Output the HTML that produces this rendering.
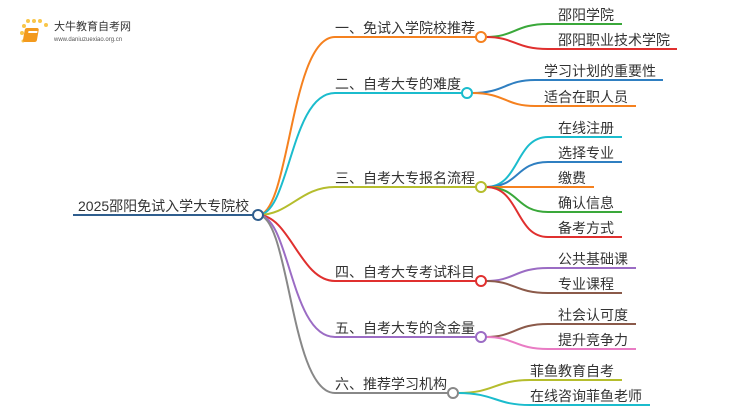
<!DOCTYPE html>
<html><head><meta charset="utf-8"><style>
html,body{margin:0;padding:0;background:#fff}
svg{display:block}
text{font-family:"Liberation Sans","Noto Sans CJK SC",sans-serif;fill:#333}
</style></head><body>
<svg width="750" height="410" viewBox="0 0 750 410" xmlns="http://www.w3.org/2000/svg">
<g>
<circle cx="24" cy="26" r="2" fill="#f9c64a"/><circle cx="28" cy="21" r="2" fill="#f9c64a"/><circle cx="34" cy="21" r="2" fill="#f9c64a"/><circle cx="40" cy="21" r="2" fill="#f9c64a"/><circle cx="46" cy="25" r="2" fill="#f9c64a"/><circle cx="22" cy="33" r="2" fill="#f9c64a"/><circle cx="23" cy="41" r="1.5" fill="#f9c64a"/>
<rect x="30" y="28" width="14" height="14" rx="2" fill="#f39a1e" transform="skewX(-10)"/>
<rect x="34" y="31" width="9" height="2" fill="#fff" transform="skewX(-10)"/>
<text x="54" y="30" font-size="11" style="fill:#333">大牛教育自考网</text>
<text x="54" y="41" font-size="6" style="fill:#555">www.daniuzuexiao.org.cn</text>
</g>
<g fill="none" stroke-width="2">
<path d="M258 215 C290 215 290 37 335 37 H476" stroke="#f5811f"/>
<path d="M258 215 C290 215 290 93 335 93 H462" stroke="#1bbccd"/>
<path d="M258 215 C290 215 300 187 335 187 H476" stroke="#b5bd2d"/>
<path d="M258 215 C290 215 300 281 335 281 H476" stroke="#e0302f"/>
<path d="M258 215 C290 215 290 337 335 337 H476" stroke="#9b6cc4"/>
<path d="M258 215 C290 215 290 393 335 393 H448" stroke="#888"/>
<path d="M73 215 H253" stroke="#2f5e8e"/>
<path d="M486 37 C515 37 515 24 548 24 H622" stroke="#3aa83a"/>
<path d="M486 37 C515 37 515 49 548 49 H677" stroke="#e0302f"/>
<path d="M472 93 C505 93 505 80 535 80 H663" stroke="#2f7fc1"/>
<path d="M472 93 C505 93 505 106 535 106 H636" stroke="#f5811f"/>
<path d="M486 187 C520 187 515 137 548 137 H622" stroke="#1bbccd"/>
<path d="M486 187 C520 187 515 162 548 162 H622" stroke="#2f7fc1"/>
<path d="M486 187 H594" stroke="#f5811f"/>
<path d="M486 187 C520 187 515 212 548 212 H622" stroke="#3aa83a"/>
<path d="M486 187 C520 187 515 237 548 237 H622" stroke="#e0302f"/>
<path d="M486 281 C515 281 515 268 548 268 H636" stroke="#9b6cc4"/>
<path d="M486 281 C515 281 515 293 548 293 H622" stroke="#8b5a4a"/>
<path d="M486 337 C515 337 515 324 548 324 H636" stroke="#8b5a4a"/>
<path d="M486 337 C515 337 515 349 548 349 H636" stroke="#e97cc4"/>
<path d="M458 393 C495 393 495 380 530 380 H622" stroke="#b5bd2d"/>
<path d="M458 393 C495 393 495 405 530 405 H650" stroke="#1bbccd"/>
</g>
<g fill="#fff" stroke-width="2">
<circle cx="258" cy="215" r="5" stroke="#2f5e8e"/>
<circle cx="481" cy="37" r="5" stroke="#f5811f"/>
<circle cx="467" cy="93" r="5" stroke="#1bbccd"/>
<circle cx="481" cy="187" r="5" stroke="#b5bd2d"/>
<circle cx="481" cy="281" r="5" stroke="#e0302f"/>
<circle cx="481" cy="337" r="5" stroke="#9b6cc4"/>
<circle cx="453" cy="393" r="5" stroke="#888"/>
</g>
<g font-size="14">
<text x="78" y="211">2025邵阳免试入学大专院校</text>
<text x="335" y="33">一、免试入学院校推荐</text>
<text x="335" y="89">二、自考大专的难度</text>
<text x="335" y="183">三、自考大专报名流程</text>
<text x="335" y="277">四、自考大专考试科目</text>
<text x="335" y="333">五、自考大专的含金量</text>
<text x="335" y="389">六、推荐学习机构</text>
</g>
<g font-size="14">
<text x="558" y="20">邵阳学院</text>
<text x="558" y="45">邵阳职业技术学院</text>
<text x="544" y="76">学习计划的重要性</text>
<text x="544" y="102">适合在职人员</text>
<text x="558" y="133">在线注册</text>
<text x="558" y="158">选择专业</text>
<text x="558" y="183">缴费</text>
<text x="558" y="208">确认信息</text>
<text x="558" y="233">备考方式</text>
<text x="558" y="264">公共基础课</text>
<text x="558" y="289">专业课程</text>
<text x="558" y="320">社会认可度</text>
<text x="558" y="345">提升竞争力</text>
<text x="530" y="376">菲鱼教育自考</text>
<text x="530" y="401">在线咨询菲鱼老师</text>
</g>
</svg>
</body></html>
